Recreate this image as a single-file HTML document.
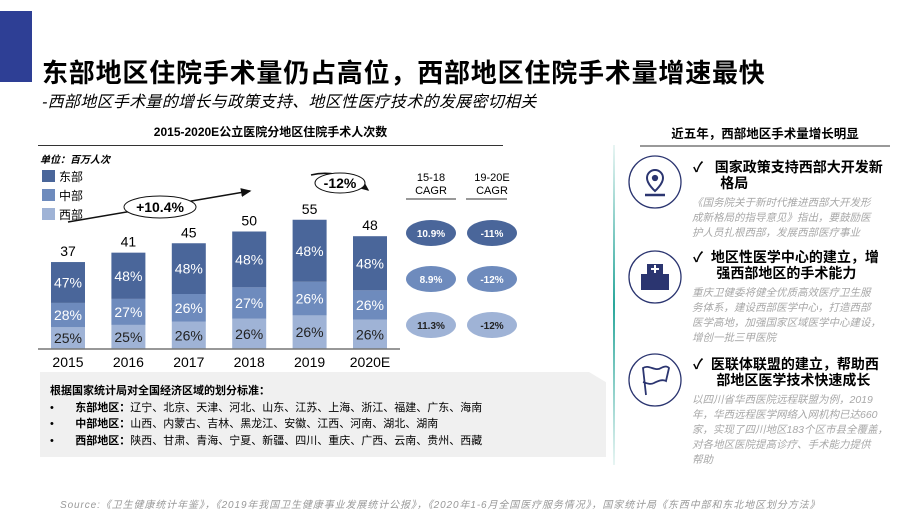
<!DOCTYPE html>
<html><head><meta charset="utf-8">
<style>
body{margin:0;width:920px;height:518px;overflow:hidden;background:#fff;font-family:"Liberation Sans","Noto Sans CJK SC",sans-serif;position:relative}
.a{position:absolute;white-space:nowrap}
.h{font-weight:bold;color:#000;font-size:14px;line-height:16px}
.d{font-style:italic;color:#a8a8a8;font-size:10.5px;line-height:15px}
</style></head><body>
<div class="a" style="left:0;top:11px;width:32px;height:71px;background:#2e3f95"></div>
<div class="a" style="left:42px;top:53px;font-size:26px;letter-spacing:0.8px;font-weight:bold">东部地区住院手术量仍占高位，西部地区住院手术量增速最快</div>
<div class="a" style="left:42px;top:88px;font-size:16px;letter-spacing:0.3px;font-style:italic">-西部地区手术量的增长与政策支持、地区性医疗技术的发展密切相关</div>

<div class="a" style="left:38px;top:123px;width:465px;text-align:center;font-size:12px;font-weight:bold">2015-2020E公立医院分地区住院手术人次数</div>
<div class="a" style="left:38px;top:145px;width:465px;height:1px;background:#333"></div>
<div class="a" style="left:40px;top:151px;font-size:10px;font-weight:bold;font-style:italic">单位：百万人次</div>

<svg class="a" style="left:0;top:0" width="920" height="518">
<defs>
<marker id="ar" markerWidth="8" markerHeight="8" refX="6" refY="4" orient="auto"><path d="M0,1 L7,4 L0,7z" fill="#111"/></marker>
<linearGradient id="tg" x1="0" y1="0" x2="0" y2="1"><stop offset="0" stop-color="#e8f5f3"/><stop offset=".5" stop-color="#2aa79b"/><stop offset="1" stop-color="#e8f5f3"/></linearGradient>
</defs>
<rect x="613" y="145" width="2" height="320" fill="url(#tg)"/>
<g id="bars"></g>
<line x1="68" y1="222" x2="250" y2="191" stroke="#111" stroke-width="1.5" marker-end="url(#ar)"/>
<ellipse cx="160" cy="207" rx="36" ry="11" fill="#fff" stroke="#111"/>
<text x="160" y="212" text-anchor="middle" font-size="14" font-weight="bold" font-family="Liberation Sans">+10.4%</text>
<path d="M311,175 Q340,168 368,190" fill="none" stroke="#111" stroke-width="1.5" marker-end="url(#ar)"/>
<ellipse cx="340" cy="183" rx="25" ry="10" fill="#fff" stroke="#111"/>
<text x="340" y="188" text-anchor="middle" font-size="14" font-weight="bold" font-family="Liberation Sans">-12%</text>
<line x1="38" y1="349" x2="400" y2="349" stroke="#777" stroke-width="1.5"/>
<g>
<rect x="42" y="170" width="13" height="12" fill="#4a669a"/><text x="59" y="181" font-size="12" font-family="Liberation Sans,Noto Sans CJK SC">东部</text>
<rect x="42" y="189" width="13" height="12" fill="#6e8bbd"/><text x="59" y="200" font-size="12" font-family="Liberation Sans,Noto Sans CJK SC">中部</text>
<rect x="42" y="208" width="13" height="12" fill="#9fb3d6"/><text x="59" y="219" font-size="12" font-family="Liberation Sans,Noto Sans CJK SC">西部</text>
</g>
<g id="cagr" font-family="Liberation Sans"></g>
<line x1="406" y1="199" x2="456" y2="199" stroke="#333"/><line x1="466" y1="199" x2="507" y2="199" stroke="#333"/>
<text x="431" y="181" text-anchor="middle" font-size="11">15-18</text><text x="431" y="194" text-anchor="middle" font-size="11">CAGR</text>
<text x="492" y="181" text-anchor="middle" font-size="11">19-20E</text><text x="492" y="194" text-anchor="middle" font-size="11">CAGR</text>
<line x1="640" y1="146" x2="890" y2="146" stroke="#333"/>
<g fill="none" stroke="#2b3570" stroke-width="1.3">
<circle cx="655" cy="182" r="26"/>
<path d="M655,170 a8,8 0 0 1 8,8 c0,6 -8,13 -8,13 c0,0 -8,-7 -8,-13 a8,8 0 0 1 8,-8z" stroke-width="2"/><circle cx="655" cy="178" r="2.5" fill="#2b3570"/><line x1="645" y1="195" x2="665" y2="195" stroke-width="2.5"/>
<circle cx="655" cy="277" r="26"/>
<path d="M641,290 v-16 h6 v-10 h16 v10 h6 v16z" fill="#2b3570" stroke="none"/><path d="M655,265 v8 M651,269 h8" stroke="#fff" stroke-width="2"/>
<circle cx="655" cy="380" r="26"/>
<path d="M646,395 L643,368 c6,-4 12,4 18,0 c4,-2 6,-2 8,0 l-3,13 c-4,-2 -8,0 -12,2 c-4,2 -8,0 -11,-1" stroke-width="1.8"/>
</g>
</svg>

<div class="a" style="left:640px;top:123px;width:250px;text-align:center;font-size:12.5px;font-weight:bold">近五年，西部地区手术量增长明显</div>
<div class="a h" style="left:693px;top:159px">✓&nbsp;&nbsp;&nbsp;国家政策支持西部大开发新<br>&nbsp;&nbsp;&nbsp;&nbsp;&nbsp;&nbsp;&nbsp;格局</div>
<div class="a d" style="left:692px;top:196px">《国务院关于新时代推进西部大开发形<br>成新格局的指导意见》指出，要鼓励医<br>护人员扎根西部，发展西部医疗事业</div>
<div class="a h" style="left:693px;top:249px">✓&nbsp;&nbsp;地区性医学中心的建立，增<br>&nbsp;&nbsp;&nbsp;&nbsp;&nbsp;&nbsp;强西部地区的手术能力</div>
<div class="a d" style="left:692px;top:286px">重庆卫健委将健全优质高效医疗卫生服<br>务体系，建设西部医学中心，打造西部<br>医学高地，加强国家区域医学中心建设，<br>增创一批三甲医院</div>
<div class="a h" style="left:693px;top:356px">✓&nbsp;&nbsp;医联体联盟的建立，帮助西<br>&nbsp;&nbsp;&nbsp;&nbsp;&nbsp;&nbsp;部地区医学技术快速成长</div>
<div class="a d" style="left:692px;top:393px">以四川省华西医院远程联盟为例，2019<br>年，华西远程医学网络入网机构已达660<br>家，实现了四川地区183个区市县全覆盖，<br>对各地区医院提高诊疗、手术能力提供<br>帮助</div>

<div class="a" style="left:40px;top:372px;width:566px;height:85px;background:#f0f0f0;clip-path:polygon(0 0,97% 0,100% 12%,100% 100%,0 100%)"></div>
<div class="a" style="left:50px;top:383px;font-size:11px;line-height:16.5px">
<b>根据国家统计局对全国经济区域的划分标准：</b><br>
•&nbsp;&nbsp;&nbsp;&nbsp;&nbsp;&nbsp;&nbsp;<b>东部地区：</b>辽宁、北京、天津、河北、山东、江苏、上海、浙江、福建、广东、海南<br>
•&nbsp;&nbsp;&nbsp;&nbsp;&nbsp;&nbsp;&nbsp;<b>中部地区：</b>山西、内蒙古、吉林、黑龙江、安徽、江西、河南、湖北、湖南<br>
•&nbsp;&nbsp;&nbsp;&nbsp;&nbsp;&nbsp;&nbsp;<b>西部地区：</b>陕西、甘肃、青海、宁夏、新疆、四川、重庆、广西、云南、贵州、西藏</div>
<div class="a" style="left:60px;top:496px;font-size:10px;letter-spacing:0.9px;font-style:italic;color:#999">Source:《卫生健康统计年鉴》，《2019年我国卫生健康事业发展统计公报》，《2020年1-6月全国医疗服务情况》，国家统计局《东西中部和东北地区划分方法》</div>

<script>
const years=["2015","2016","2017","2018","2019","2020E"];
const totals=[37,41,45,50,55,48];
const eastPct=[47,48,48,48,48,48];
const midPct=[28,27,26,27,26,26];
const westPct=[25,25,26,26,26,26];
const cagrEast=["10.9%","-11%"];
const cagrMid=["8.9%","-12%"];
const cagrWest=["11.3%","-12%"];
const NS="http://www.w3.org/2000/svg";
const base=349,k=2.35,x0=68,step=60.4,bw=34;
const xs=i=>x0+i*step, ys=v=>base-v*k;
const g=document.getElementById('bars');
function mk(t,a){const e=document.createElementNS(NS,t);for(const n in a)e.setAttribute(n,a[n]);return e;}
years.forEach((yr,i)=>{
  const segs=[[westPct[i],"#9fb3d6","west"],[midPct[i],"#6e8bbd","central"],[eastPct[i],"#4a669a","east"]];
  const sum=westPct[i]+midPct[i]+eastPct[i];
  let acc=0;
  segs.forEach(s=>{
    const v0=totals[i]*acc/sum, v1=totals[i]*(acc+s[0])/sum;
    const r=mk('rect',{x:xs(i)-bw/2,y:ys(v1),width:bw,height:ys(v0)-ys(v1),fill:s[1]});
    
    
    g.appendChild(r);
    const t=mk('text',{x:xs(i),y:(ys(v0)+ys(v1))/2+5,'text-anchor':'middle','font-size':14,fill:s[2]=="west"?"#222":"#fff",'font-family':'Liberation Sans'});
    t.textContent=s[0]+'%';g.appendChild(t);
    acc+=s[0];
  });
  const tl=mk('text',{x:xs(i),y:ys(totals[i])-6,'text-anchor':'middle','font-size':14,'font-family':'Liberation Sans'});
  tl.textContent=totals[i];g.appendChild(tl);
  const xl=mk('text',{x:xs(i),y:367,'text-anchor':'middle','font-size':14,'font-family':'Liberation Sans'});
  xl.textContent=yr;g.appendChild(xl);
});
const cg=document.getElementById('cagr');
[[cagrEast,"#4a669a","#fff"],[cagrMid,"#6e8bbd","#fff"],[cagrWest,"#9fb3d6","#222"]].forEach((row,r)=>{
  row[0].forEach((val,c)=>{
    const cx=c?492:431, cy=233+r*46;
    const e=mk('ellipse',{cx:cx,cy:cy,rx:25,ry:13,fill:row[1]});
    
    
    cg.appendChild(e);
    const t=mk('text',{x:cx,y:cy+4,'text-anchor':'middle','font-size':10,'font-weight':'bold',fill:row[2]});
    t.textContent=val;cg.appendChild(t);
  });
});
</script>
</body></html>
